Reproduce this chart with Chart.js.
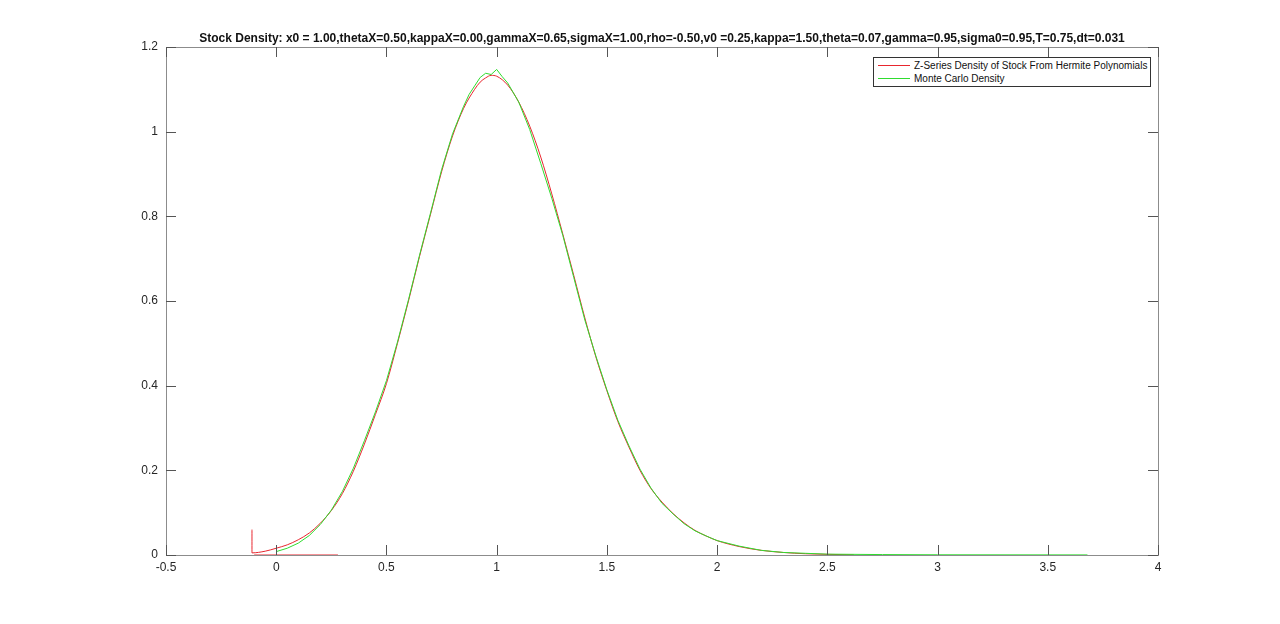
<!DOCTYPE html>
<html>
<head>
<meta charset="utf-8">
<script src="https://cdn.jsdelivr.net/npm/chart.js@4.4.1/dist/chart.umd.min.js"></script>
<style>
    body { margin: 0; background: #fff; }
    #wrap { position: relative; width: 1280px; height: 624px; }
    #legend {
        position: absolute; left: 873px; top: 57px; width: 276px; height: 28px;
        border: 1px solid #333; background: #fff;
        font-family: "Liberation Sans", Arial, sans-serif; font-size: 10px; color: #111;
    }
    .leg-row { position: absolute; left: 0; height: 13px; line-height: 13px; white-space: nowrap; }
    .leg-line { position: absolute; left: 4px; top: 6px; width: 32px; height: 1px; }
    .leg-text { position: absolute; left: 40px; top: 0; }
</style>
</head>
<body>
<div id="wrap">
    <canvas id="densityChart" width="1280" height="624"></canvas>
    <div id="legend">
        <div class="leg-row" style="top:1px"><div class="leg-line" style="background:#e8262e"></div><span class="leg-text">Z-Series Density of Stock From Hermite Polynomials</span></div>
        <div class="leg-row" style="top:14px"><div class="leg-line" style="background:#2fdc2f"></div><span class="leg-text">Monte Carlo Density</span></div>
    </div>
</div>
<script>
var chartTitle = "Stock Density: x0 = 1.00,thetaX=0.50,kappaX=0.00,gammaX=0.65,sigmaX=1.00,rho=-0.50,v0 =0.25,kappa=1.50,theta=0.07,gamma=0.95,sigma0=0.95,T=0.75,dt=0.031";

// Z-series (Hermite) density
var hermiteX = [-0.11, -0.11, -0.05, 0, 0.05, 0.1, 0.15, 0.2, 0.25, 0.3, 0.35, 0.4, 0.45, 0.5, 0.55, 0.6, 0.65, 0.7, 0.75, 0.8, 0.85, 0.9, 0.925, 0.95, 0.975, 1.0, 1.05, 1.1, 1.15, 1.2, 1.25, 1.3, 1.35, 1.4, 1.45, 1.5, 1.55, 1.6, 1.65, 1.7, 1.75, 1.8, 1.85, 1.9, 1.95, 2.0, 2.1, 2.2, 2.3, 2.4, 2.5, 2.62];
var hermiteY = [0.06, 0.005, 0.009, 0.016, 0.024, 0.036, 0.052, 0.075, 0.105, 0.145, 0.198, 0.262, 0.332, 0.405, 0.50, 0.60, 0.705, 0.805, 0.905, 0.99, 1.055, 1.10, 1.117, 1.127, 1.133, 1.131, 1.11, 1.07, 1.013, 0.94, 0.853, 0.758, 0.66, 0.56, 0.468, 0.388, 0.315, 0.255, 0.20, 0.157, 0.125, 0.098, 0.076, 0.058, 0.045, 0.034, 0.020, 0.011, 0.006, 0.003, 0.0015, 0.0005];

// flat zero piece of the Hermite series
var hermiteZeroX = [-0.1, 0.28];
var hermiteZeroY = [0, 0];

// Monte Carlo density
var mcX = [0, 0.05, 0.1, 0.15, 0.2, 0.25, 0.3, 0.35, 0.4, 0.45, 0.5, 0.55, 0.6, 0.65, 0.7, 0.75, 0.8, 0.85, 0.875, 0.9, 0.925, 0.95, 0.975, 1.0, 1.025, 1.05, 1.1, 1.15, 1.2, 1.25, 1.3, 1.35, 1.4, 1.45, 1.5, 1.55, 1.6, 1.65, 1.7, 1.75, 1.8, 1.85, 1.9, 1.95, 2.0, 2.1, 2.2, 2.3, 2.4, 2.5, 2.75, 3.0, 3.68];
var mcY = [0.008, 0.016, 0.028, 0.046, 0.072, 0.106, 0.150, 0.205, 0.270, 0.338, 0.412, 0.503, 0.603, 0.708, 0.808, 0.91, 0.995, 1.06, 1.088, 1.108, 1.128, 1.138, 1.135, 1.147, 1.13, 1.115, 1.07, 1.005, 0.925, 0.843, 0.755, 0.655, 0.555, 0.47, 0.39, 0.318, 0.258, 0.203, 0.158, 0.122, 0.097, 0.074, 0.057, 0.045, 0.034, 0.021, 0.011, 0.006, 0.004, 0.002, 0.001, 0.0005, 0.0002];

var xTicks = [-0.5, 0, 0.5, 1, 1.5, 2, 2.5, 3, 3.5, 4];
var yTicks = [0, 0.2, 0.4, 0.6, 0.8, 1, 1.2];

function toPoints(xs, ys) {
    var pts = [];
    for (var i = 0; i < xs.length; i++) {
        pts.push({ x: xs[i], y: ys[i] });
    }
    return pts;
}

// matlab-ish box with inward ticks + title
var boxPlugin = {
    id: 'matlabBox',
    afterDraw: function (chart) {
        var ctx = chart.ctx;
        var a = chart.chartArea;
        var xs = chart.scales.x, ys = chart.scales.y;
        ctx.save();
        ctx.strokeStyle = '#8c8c8c';
        ctx.lineWidth = 1;
        ctx.strokeRect(Math.round(a.left) + 0.5, Math.round(a.top) + 0.5, Math.round(a.right - a.left), Math.round(a.bottom - a.top));
        ctx.strokeStyle = '#555';
        ctx.beginPath();
        xTicks.forEach(function (v) {
            var px = Math.round(xs.getPixelForValue(v)) + 0.5;
            ctx.moveTo(px, a.bottom); ctx.lineTo(px, a.bottom - 10);
            ctx.moveTo(px, a.top); ctx.lineTo(px, a.top + 10);
        });
        yTicks.forEach(function (v) {
            var py = Math.round(ys.getPixelForValue(v)) + 0.5;
            ctx.moveTo(a.left, py); ctx.lineTo(a.left + 10, py);
            ctx.moveTo(a.right, py); ctx.lineTo(a.right - 10, py);
        });
        ctx.stroke();
        ctx.fillStyle = '#111';
        ctx.font = 'bold 12px "Liberation Sans", Arial, sans-serif';
        ctx.textAlign = 'center';
        ctx.textBaseline = 'alphabetic';
        ctx.fillText(chartTitle, (a.left + a.right) / 2, 42);
        ctx.restore();
    }
};

var ctx = document.getElementById('densityChart').getContext('2d');
var densityChart = new Chart(ctx, {
    type: 'scatter',
    data: {
        datasets: [
            {
                label: 'Z-Series Density of Stock From Hermite Polynomials',
                data: toPoints(hermiteX, hermiteY),
                borderColor: '#e8262e',
                showLine: true, borderWidth: 1, pointRadius: 0, cubicInterpolationMode: 'monotone', order: 1
            },
            {
                label: 'zero',
                data: toPoints(hermiteZeroX, hermiteZeroY),
                borderColor: '#e8262e',
                showLine: true, borderWidth: 1, pointRadius: 0, order: 2
            },
            {
                label: 'Monte Carlo Density',
                data: toPoints(mcX, mcY),
                borderColor: '#2fdc2f',
                showLine: true, borderWidth: 1, pointRadius: 0, order: 0
            }
        ]
    },
    options: {
        responsive: false,
        animation: false,
        layout: { padding: { left: 0, right: 122, top: 47, bottom: 0 } },
        plugins: {
            legend: { display: false },
            title: { display: false },
            tooltip: { enabled: false }
        },
        scales: {
            x: {
                type: 'linear', min: -0.5, max: 4,
                afterFit: function (s) { s.height = 69; },
                afterBuildTicks: function (s) { s.ticks = xTicks.map(function (v) { return { value: v }; }); },
                grid: { display: false, drawTicks: false },
                border: { display: false },
                ticks: {
                    padding: 5, color: '#262626',
                    font: { family: '"Liberation Sans", Arial, sans-serif', size: 12 },
                    callback: function (v) { return String(v); }
                }
            },
            y: {
                type: 'linear', min: 0, max: 1.2,
                afterFit: function (s) { s.width = 166; },
                afterBuildTicks: function (s) { s.ticks = yTicks.map(function (v) { return { value: v }; }); },
                grid: { display: false, drawTicks: false },
                border: { display: false },
                ticks: {
                    padding: 8, color: '#262626',
                    font: { family: '"Liberation Sans", Arial, sans-serif', size: 12 },
                    callback: function (v) { return String(v); }
                }
            }
        }
    },
    plugins: [boxPlugin]
});
</script>
</body>
</html>
